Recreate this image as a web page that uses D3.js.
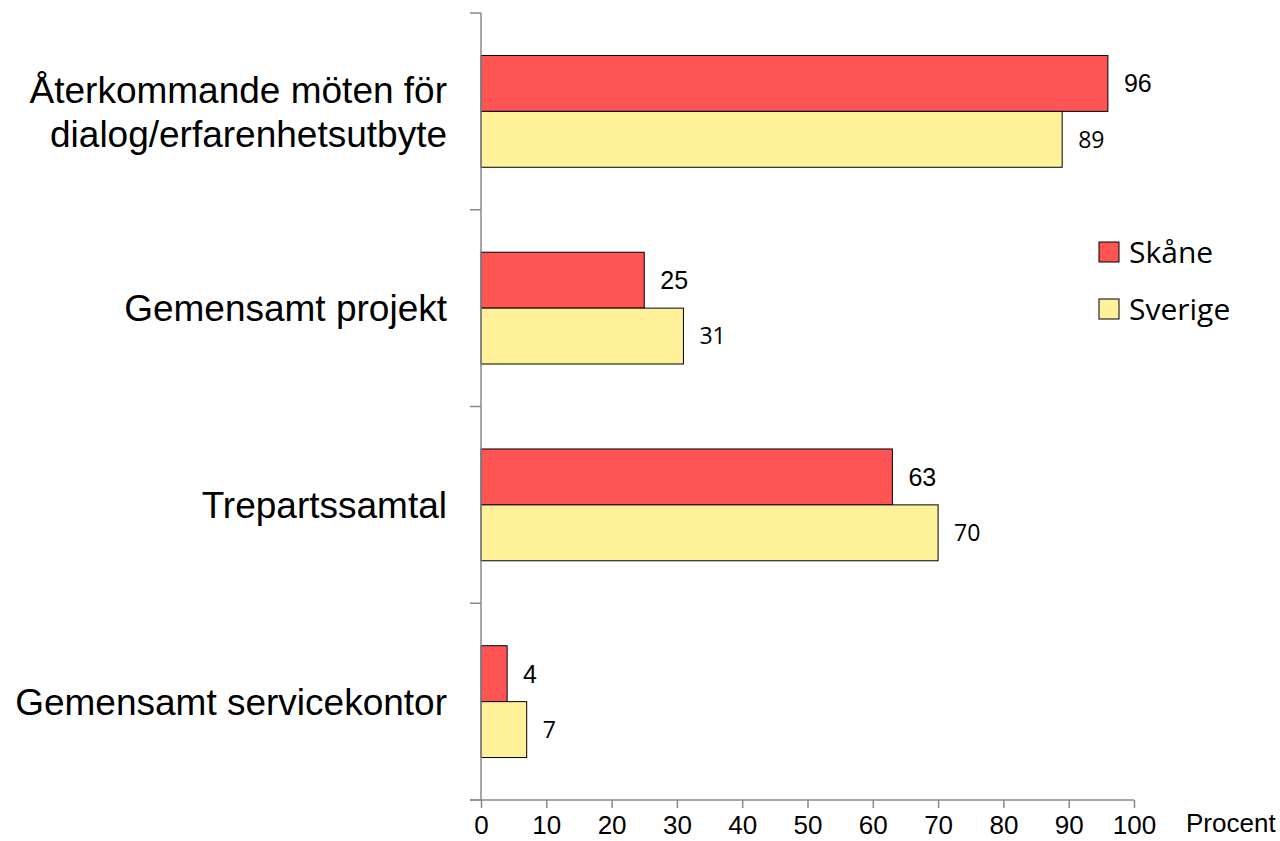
<!DOCTYPE html>
<html>
<head>
<meta charset="utf-8">
<script src="https://cdn.jsdelivr.net/npm/d3@7"></script>
<style>
  body { margin: 0; background: #fff; }
  svg { display: block; }
  .cat { font-family: "Liberation Sans", Arial, sans-serif; font-size: 37px; fill: #000; }
  .tick text { font-family: "Liberation Sans", Arial, sans-serif; font-size: 26px; fill: #000; }
</style>
</head>
<body>
<div id="chart"></div>
<script>
const categories = [
	["Återkommande möten för", "dialog/erfarenhetsutbyte"],
	["Gemensamt projekt"],
	["Trepartssamtal"],
	["Gemensamt servicekontor"],
];
const seriesNames = ["Skåne", "Sverige"];
const skane = [96, 25, 63, 4];
const sverige = [89, 31, 70, 7];
const xTicks = [0, 10, 20, 30, 40, 50, 60, 70, 80, 90, 100];

const width = 1280;
const height = 841;
const colours = {Skåne: "#ff5454", Sverige: "#fff09a"};
const axisColour = "#888";
const lineGap = 44;

const rows = categories.map((c, i) => ({
	key: i,
	label: c,
	values: [
		{series: "Skåne", value: skane[i]},
		{series: "Sverige", value: sverige[i]},
	],
}));

const svg = d3.select("#chart").append("svg")
	.attr("width", width)
	.attr("height", height);

const x = d3.scaleLinear().domain([0, 100]).range([481, 1134]);
const y = d3.scaleBand().domain(rows.map((d) => d.key)).range([13, 800]);
const ySeries = d3.scaleBand().domain(seriesNames).range([0, y.bandwidth()]).paddingOuter(0.76);

// Bars
const groups = svg.selectAll(".group")
	.data(rows)
	.enter()
	.append("g")
	.attr("class", "group")
	.attr("transform", (d) => `translate(0,${y(d.key)})`);

groups.selectAll("rect")
	.data((d) => d.values)
	.enter()
	.append("rect")
	.attr("x", x(0))
	.attr("y", (d) => ySeries(d.series))
	.attr("width", (d) => x(d.value) - x(0))
	.attr("height", ySeries.bandwidth())
	.attr("fill", (d) => colours[d.series])
	.attr("stroke", "#000")
	.attr("stroke-width", 1);

// Value labels
groups.selectAll(".value")
	.data((d) => d.values)
	.enter()
	.append("text")
	.attr("class", "value")
	.attr("x", (d) => x(d.value) + 16)
	.attr("y", (d) => ySeries(d.series) + ySeries.bandwidth() / 2)
	.attr("dy", "0.36em")
	.style("font-family", (d) => d.series === "Skåne" ? "'Liberation Sans', Arial, sans-serif" : "'Open Sans', sans-serif")
	.style("font-size", (d) => d.series === "Skåne" ? "25px" : "23px")
	.text((d) => d.value);

// Category labels
groups.append("text")
	.attr("class", "cat")
	.attr("text-anchor", "end")
	.attr("y", (d) => y.bandwidth() / 2 - (d.label.length - 1) * lineGap / 2)
	.selectAll("tspan")
	.data((d) => d.label)
	.enter()
	.append("tspan")
	.attr("x", 447)
	.attr("dy", (d, i) => (i === 0 ? "0.36em" : lineGap))
	.text((d) => d);

// Y axis line with ticks at category boundaries
svg.append("line")
	.attr("x1", x(0)).attr("x2", x(0))
	.attr("y1", y.range()[0]).attr("y2", y.range()[1])
	.attr("stroke", axisColour).attr("stroke-width", 1.5);

const boundaries = rows.map((d) => y(d.key)).concat([y.range()[1]]);
svg.selectAll(".ytick")
	.data(boundaries)
	.enter()
	.append("line")
	.attr("x1", x(0) - 11).attr("x2", x(0))
	.attr("y1", (d) => d).attr("y2", (d) => d)
	.attr("stroke", axisColour).attr("stroke-width", 1.5);

// X axis
const xAxis = svg.append("g")
	.attr("transform", `translate(0,${y.range()[1]})`)
	.call(d3.axisBottom(x).tickValues(xTicks).tickSize(8).tickSizeOuter(0).tickPadding(8));
xAxis.select(".domain").remove();
xAxis.selectAll(".tick line").attr("stroke", axisColour).attr("stroke-width", 1.5);
xAxis.append("line")
	.attr("x1", x(0) - 11).attr("x2", x(100))
	.attr("stroke", axisColour).attr("stroke-width", 1.5);

svg.append("text")
	.attr("x", 1186)
	.attr("y", 832)
	.style("font-family", "'Liberation Sans', Arial, sans-serif")
	.style("font-size", "26px")
	.text("Procent");

// Legend
const legend = svg.selectAll(".legend")
	.data(seriesNames)
	.enter()
	.append("g")
	.attr("class", "legend")
	.attr("transform", (d, i) => `translate(1099,${242 + i * 57})`);

legend.append("rect")
	.attr("width", 20)
	.attr("height", 20)
	.attr("fill", (d) => colours[d])
	.attr("stroke", "#000")
	.attr("stroke-width", 1);

legend.append("text")
	.attr("x", 30)
	.attr("y", 10)
	.attr("dy", "0.36em")
	.style("font-family", "'Open Sans', sans-serif")
	.style("font-size", "30px")
	.text((d) => d);
</script>
</body>
</html>
